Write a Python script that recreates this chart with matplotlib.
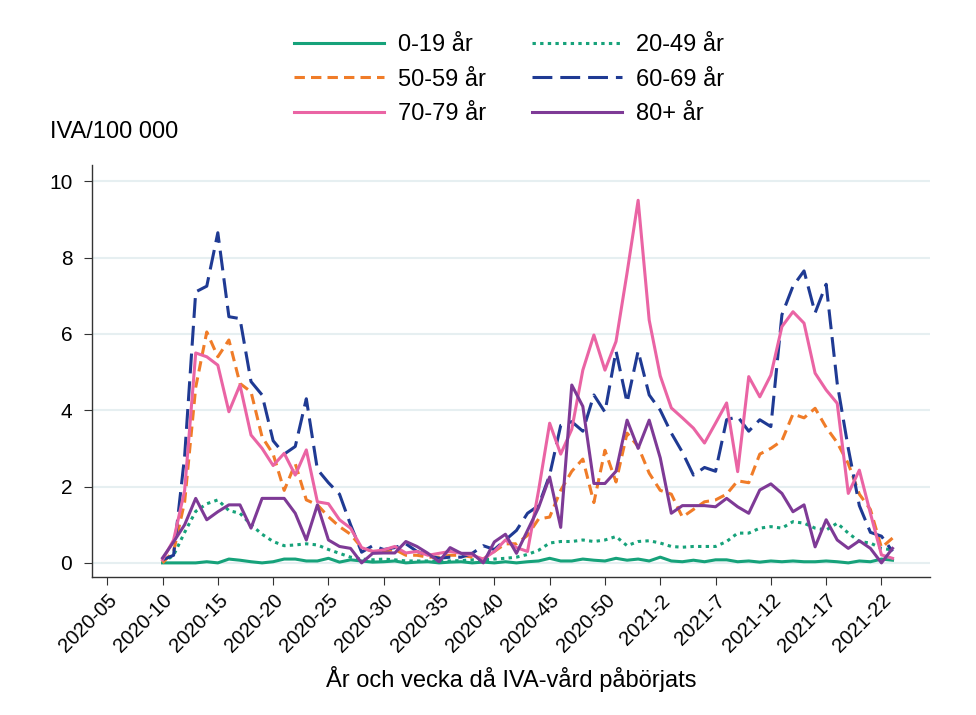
import matplotlib
matplotlib.use('Agg')

import matplotlib.pyplot as plt

# weeks on the axis, 2020-05 .. 2021-23 (2020 has 53 weeks)
all_weeks = ['2020-%02d' % w for w in range(5, 54)] + ['2021-%d' % w for w in range(1, 24)]
data_start = all_weeks.index('2020-10')
tick_labels = all_weeks[::5]

# IVA per 100 000, weekly, 2020-10 .. 2021-23
age_0_19 = [0.0, 0.0, 0.0, 0.0, 0.03, 0.0, 0.1, 0.07, 0.03, 0.0,
            0.03, 0.1, 0.1, 0.05, 0.05, 0.12, 0.02, 0.08, 0.05, 0.02,
            0.03, 0.05, 0.0, 0.02, 0.03, 0.0, 0.02, 0.03, 0.0, 0.02,
            0.0, 0.03, 0.0, 0.03, 0.05, 0.12, 0.05, 0.05, 0.1, 0.07,
            0.05, 0.12, 0.07, 0.1, 0.05, 0.15, 0.05, 0.03, 0.07, 0.03,
            0.08, 0.08, 0.03, 0.05, 0.02, 0.05, 0.03, 0.05, 0.03, 0.03,
            0.05, 0.03, 0.0, 0.05, 0.03, 0.1, 0.07]
age_20_49 = [0.0, 0.2, 0.8, 1.35, 1.55, 1.65, 1.37, 1.3, 1.0, 0.75,
             0.56, 0.45, 0.47, 0.5, 0.47, 0.35, 0.25, 0.15, 0.1, 0.08,
             0.1, 0.08, 0.05, 0.05, 0.05, 0.04, 0.05, 0.06, 0.08, 0.08,
             0.1, 0.12, 0.15, 0.22, 0.33, 0.52, 0.56, 0.56, 0.6, 0.56,
             0.6, 0.69, 0.45, 0.56, 0.58, 0.52, 0.43, 0.41, 0.43, 0.43,
             0.43, 0.56, 0.78, 0.78, 0.91, 0.95, 0.91, 1.08, 1.04, 0.91,
             0.86, 1.04, 0.78, 0.56, 0.52, 0.38, 0.34]
age_50_59 = [0.0, 0.3, 1.6, 4.6, 6.05, 5.4, 5.84, 4.7, 4.48, 3.3,
             2.85, 1.9, 2.6, 1.65, 1.52, 1.21, 0.95, 0.75, 0.4, 0.3,
             0.3, 0.35, 0.2, 0.2, 0.15, 0.15, 0.2, 0.2, 0.15, 0.1,
             0.3, 0.5, 0.5, 0.72, 1.15, 1.2, 1.9, 2.4, 2.72, 1.58,
             2.95, 2.12, 3.4, 3.05, 2.35, 1.9, 1.8, 1.2, 1.4, 1.6,
             1.65, 1.8, 2.15, 2.1, 2.85, 3.0, 3.2, 3.9, 3.8, 4.05,
             3.55, 3.15, 2.6, 1.8, 1.4, 0.4, 0.65]
age_60_69 = [0.08, 0.2, 2.8, 7.1, 7.25, 8.65, 6.45, 6.4, 4.75, 4.4,
             3.2, 2.85, 3.05, 4.3, 2.45, 2.1, 1.8, 1.0, 0.28, 0.45,
             0.35, 0.4, 0.5, 0.3, 0.2, 0.12, 0.15, 0.15, 0.25, 0.45,
             0.35, 0.6, 0.85, 1.3, 1.5, 2.3, 3.6, 3.7, 3.45, 4.4,
             3.95, 5.55, 4.2, 5.55, 4.4, 4.0, 3.4, 2.9, 2.3, 2.5,
             2.4, 3.75, 3.83, 3.45, 3.75, 3.57, 6.5, 7.25, 7.65, 6.55,
             7.3, 4.7, 3.0, 1.5, 0.8, 0.7, 0.3]
age_70_79 = [0.08, 0.6, 1.9, 5.5, 5.4, 5.18, 3.96, 4.66, 3.35, 3.0,
             2.55, 2.87, 2.3, 2.96, 1.6, 1.55, 1.13, 0.91, 0.4, 0.3,
             0.34, 0.43, 0.26, 0.3, 0.2, 0.25, 0.3, 0.25, 0.2, 0.1,
             0.3, 0.6, 0.4, 0.3, 1.9, 3.66, 2.85, 3.5, 5.05, 5.97,
             5.05, 5.8, 7.6, 9.5, 6.36, 4.9, 4.06, 3.8, 3.53, 3.14,
             3.66, 4.19, 2.39, 4.88, 4.35, 4.92, 6.19, 6.58, 6.28, 4.97,
             4.53, 4.18, 1.82, 2.43, 1.3, 0.21, 0.12]
age_80 = [0.13, 0.55, 1.0, 1.69, 1.13, 1.34, 1.52, 1.52, 0.91, 1.69,
          1.69, 1.69, 1.3, 0.6, 1.52, 0.6, 0.43, 0.38, 0.0, 0.25,
          0.26, 0.26, 0.56, 0.43, 0.25, 0.03, 0.4, 0.25, 0.25, 0.0,
          0.55, 0.75, 0.25, 0.85, 1.45, 2.25, 0.93, 4.66, 4.1, 2.08,
          2.08, 2.4, 3.74, 3.0, 3.74, 2.75, 1.3, 1.5, 1.5, 1.5,
          1.47, 1.69, 1.47, 1.3, 1.91, 2.07, 1.82, 1.34, 1.52, 0.42,
          1.13, 0.6, 0.38, 0.58, 0.38, 0.0, 0.38]

series = [
    ('0-19 år', age_0_19, '#16a27a', '-'),
    ('20-49 år', age_20_49, '#16a27a', (0, (1.1, 1.4))),
    ('50-59 år', age_50_59, '#f07c28', (0, (3.4, 2.0))),
    ('60-69 år', age_60_69, '#1f3a93', (0, (6.5, 2.6))),
    ('70-79 år', age_70_79, '#ea64a4', '-'),
    ('80+ år', age_80, '#7e3a96', '-'),
]

plt.rcParams['font.family'] = ['Liberation Sans', 'DejaVu Sans']

fig = plt.figure(figsize=(9.76, 7.15), dpi=100)
ax = fig.add_axes([0.094, 0.193, 0.859, 0.576])

x = list(range(data_start, data_start + len(age_80)))
handles = {}
for label, vals, color, ls in series:
    line, = ax.plot(x, vals, color=color, lw=2.2, linestyle=ls, label=label)
    handles[label] = line

ax.set_xlim(-1.4, 74.4)
ax.set_ylim(-0.37, 10.42)
ax.set_yticks([0, 2, 4, 6, 8, 10])
ax.set_xticks(range(0, len(all_weeks), 5))
ax.set_xticklabels(tick_labels, rotation=45, ha='right', rotation_mode='anchor')

ax.grid(axis='y', color='#e6eff1', lw=1.5)
ax.set_axisbelow(True)
for side in ('top', 'right'):
    ax.spines[side].set_visible(False)
for side in ('left', 'bottom'):
    ax.spines[side].set_color('#333333')
    ax.spines[side].set_linewidth(1.0)
ax.tick_params(axis='y', labelsize=15, length=6, pad=8, color='#333333')
ax.tick_params(axis='x', labelsize=14.5, length=6, pad=4, color='#333333')

ax.set_xlabel('År och vecka då IVA-vård påbörjats', fontsize=17, labelpad=7)
fig.text(50 / 976, 1 - 132 / 715, 'IVA/100 000', fontsize=17, va='center', ha='left')

# legend rows read left to right, matplotlib fills columns first
order = ['0-19 år', '50-59 år', '70-79 år', '20-49 år', '60-69 år', '80+ år']
fig.legend([handles[k] for k in order], order, loc='upper center',
           bbox_to_anchor=(0.522, 1 - 13 / 715), ncol=2, frameon=False,
           fontsize=17, handlelength=3.8, handletextpad=0.6,
           columnspacing=1.95, labelspacing=0.52)

fig.savefig('out.png', dpi=100)
